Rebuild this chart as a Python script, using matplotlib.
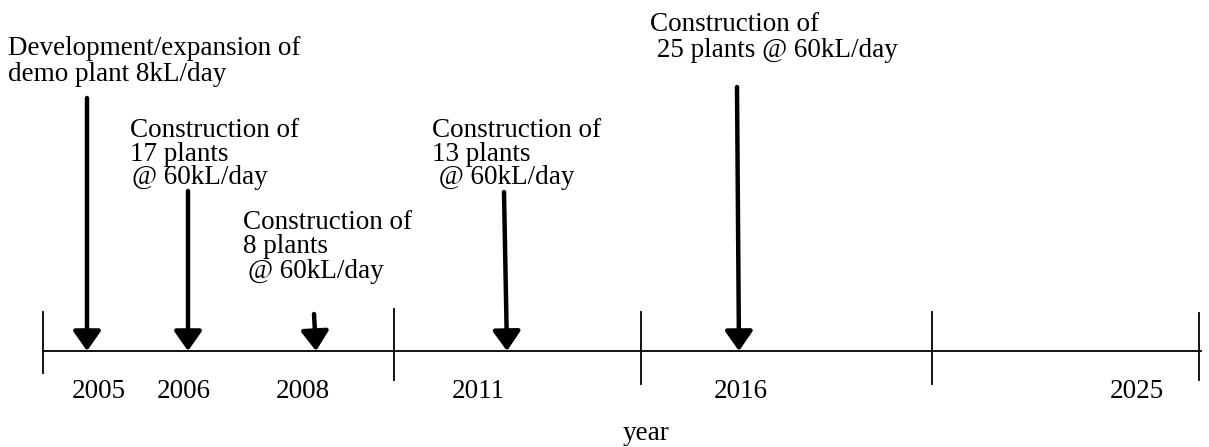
import matplotlib
matplotlib.use("Agg")
import matplotlib.pyplot as plt

# timeline laid out in image pixels (x right, y down)
line_y = 351
line_x = [43, 1201]
tick_x = [43, 394, 641, 932, 1199]
tick_top = [312, 309, 312, 312, 313]
tick_bot = [373, 380, 384, 384, 380]

years = ["2005", "2006", "2008", "2011", "2016", "2025"]
year_x = [99, 184, 303, 478, 741, 1137]

# arrows: (top x, bottom x, top y)
arrow_top_x = [87, 188, 314, 504, 737]
arrow_bot_x = [87, 188, 316, 507, 739]
arrow_top_y = [98, 191, 314, 192, 87]

# event labels: lines, left x of each line, baseline y of each line
labels = [
    (["Development/expansion of", "demo plant 8kL/day"], [8, 8], [55, 81]),
    (["Construction of", "17 plants", "@ 60kL/day"], [130, 130, 132], [137, 161, 184]),
    (["Construction of", "8 plants", "@ 60kL/day"], [243, 243, 248], [229, 253, 278]),
    (["Construction of", "13 plants", " @ 60kL/day"], [432, 432, 432], [137, 161, 184]),
    (["Construction of", " 25 plants @ 60kL/day"], [650, 650], [31, 57]),
]

FONT = "Liberation Serif"
FS = 19.5

fig = plt.figure(figsize=(12.09, 4.47), dpi=100)
ax = fig.add_axes([0, 0, 1, 1])
ax.set_xlim(0, 1209)
ax.set_ylim(447, 0)
ax.axis("off")

ax.plot(line_x, [line_y, line_y], color="black", lw=1.3)
for x, t, b in zip(tick_x, tick_top, tick_bot):
    ax.plot([x, x], [t, b], color="black", lw=1.3)

for tx, bx, ty in zip(arrow_top_x, arrow_bot_x, arrow_top_y):
    ax.annotate("", xy=(bx, line_y), xytext=(tx, ty),
                arrowprops=dict(arrowstyle="-|>,head_width=0.42,head_length=0.6",
                                mutation_scale=20, lw=3.2, color="black",
                                shrinkA=0, shrinkB=0))

for y, x in zip(years, year_x):
    ax.text(x, 391, y, ha="center", va="center", family=FONT, fontsize=FS)

for lines, xs, ys in labels:
    for s, x, y in zip(lines, xs, ys):
        ax.text(x, y, s, ha="left", va="baseline", family=FONT, fontsize=FS)

ax.text(646, 440, "year", ha="center", va="baseline", family=FONT, fontsize=FS)

fig.savefig("out.png", dpi=100)
